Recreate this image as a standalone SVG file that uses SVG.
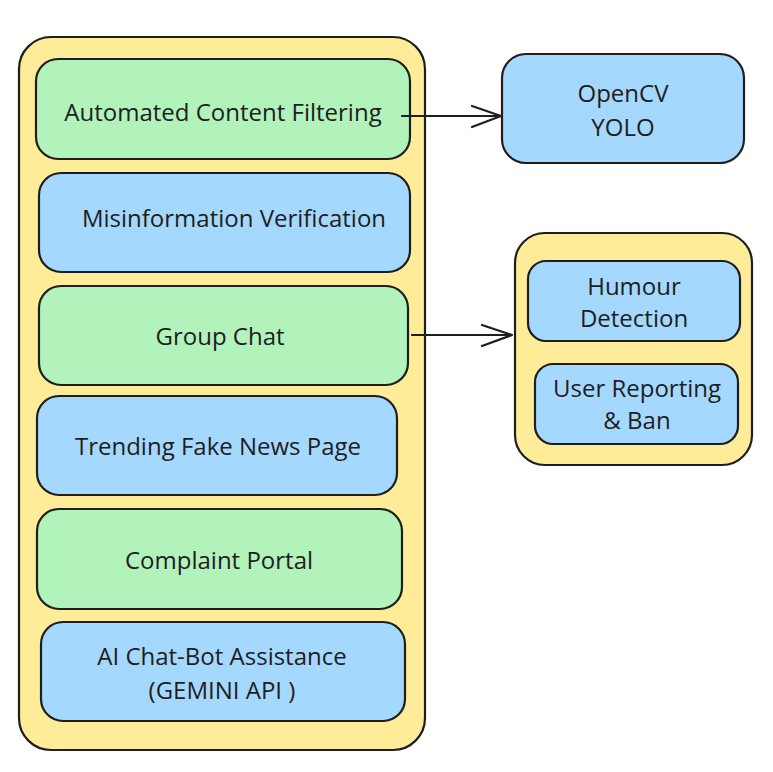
<svg xmlns="http://www.w3.org/2000/svg" width="773" height="772" viewBox="0 0 773 772">
<style>
rect{stroke:#1e1e1e;stroke-width:2.2}
.y{fill:#ffec99}.g{fill:#b2f2bb}.b{fill:#a5d8ff}
text{font-family:"Open Sans",Lato,sans-serif;font-size:24px;fill:#1e1e1e;text-anchor:middle;dominant-baseline:central}
.c{fill:none;stroke:#1e1e1e;stroke-width:2.2;stroke-linecap:round;stroke-linejoin:round}
</style>
<rect width="773" height="772" fill="#fff" style="stroke:none"/>
<g id="features">
<rect class="y" x="19" y="37" width="406" height="713" rx="32"/>
</g>
<g id="acf"><rect class="g" x="36" y="59" width="374" height="100" rx="22"/><text x="223" y="111">Automated Content Filtering</text></g>
<g id="mv"><rect class="b" x="39" y="173" width="371" height="99" rx="22"/><text x="234" y="217">Misinformation Verification</text></g>
<g id="gc"><rect class="g" x="39" y="286" width="369" height="99" rx="22"/><text x="220" y="335">Group Chat</text></g>
<g id="tfn"><rect class="b" x="37" y="396" width="360" height="99" rx="22"/><text x="218" y="445">Trending Fake News Page</text></g>
<g id="cp"><rect class="g" x="37" y="509" width="365" height="100" rx="22"/><text x="219" y="559">Complaint Portal</text></g>
<g id="ai"><rect class="b" x="41" y="622" width="364" height="99" rx="22"/><text x="222" y="655">AI Chat-Bot Assistance</text><text x="222" y="689">(GEMINI API )</text></g>
<g id="cv"><rect class="b" x="502" y="54" width="242" height="109" rx="24"/><text x="623" y="92">OpenCV</text><text x="623" y="126">YOLO</text></g>
<g id="mod"><rect class="y" x="515" y="233" width="237" height="232" rx="30"/></g>
<g id="hd"><rect class="b" x="528" y="261" width="212" height="80" rx="18"/><text x="634" y="285">Humour</text><text x="634" y="317">Detection</text></g>
<g id="ur"><rect class="b" x="535" y="364" width="203" height="80" rx="18"/><text x="637" y="387">User Reporting</text><text x="637" y="419">&amp; Ban</text></g>
<g id="connectors">
<path class="c" d="M402 116 L501 116 M472 106 L501 116 L472 127"/>
<path class="c" d="M412 335 L512 335 M482 325 L512 335 L482 346"/>
</g>
</svg>
